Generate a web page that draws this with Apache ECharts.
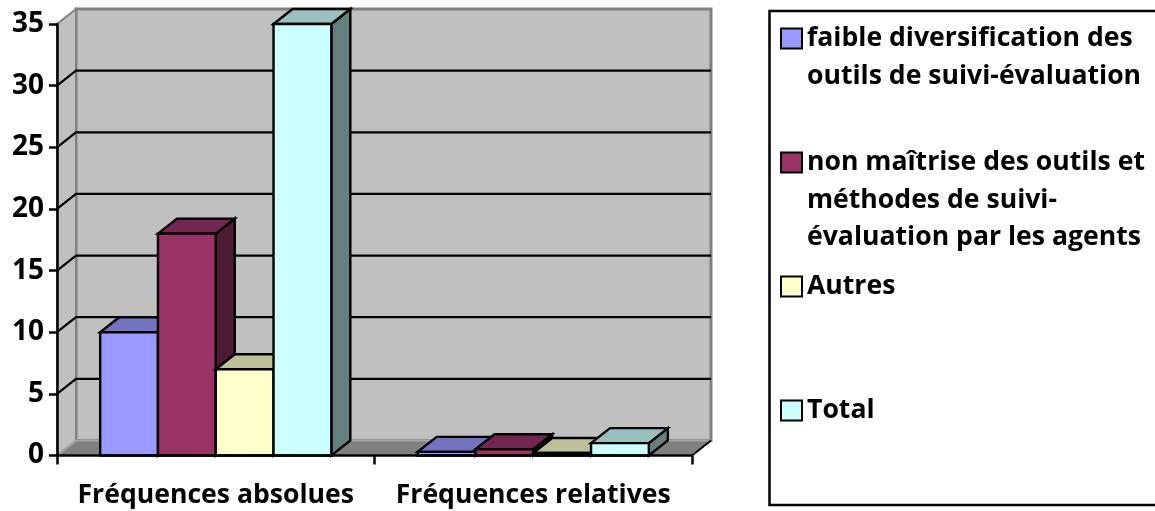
<!DOCTYPE html>
<html>
<head>
<meta charset="utf-8">
<style>html,body{margin:0;padding:0;background:#fff}#c{width:1155px;height:511px}</style>
<script src="https://cdn.jsdelivr.net/npm/echarts@6/dist/echarts.min.js"></script>
</head>
<body>
<div id="c"></div>
<script>
const categories = ['Fréquences absolues', 'Fréquences relatives'];
const seriesNames = ['faible diversification des outils de suivi-évaluation',
  'non maîtrise des outils et méthodes de suivi-évaluation par les agents', 'Autres', 'Total'];
const legendLines = [
  ['faible diversification des', 'outils de suivi-évaluation'],
  ['non maîtrise des outils et', 'méthodes de suivi-', 'évaluation par les agents'],
  ['Autres'],
  ['Total']
];
const faible = [10, 0.29];
const nonMaitrise = [18, 0.51];
const autres = [7, 0.2];
const total = [35, 1];
const seriesValues = [faible, nonMaitrise, autres, total];
const yTicks = [0, 5, 10, 15, 20, 25, 30, 35];
const frontColors = ['#9999FF', '#993366', '#FFFFCC', '#CCFFFF'];
const topColors = ['#7373BF', '#732650', '#BFBF99', '#99BFBF'];
const sideColors = ['#5C5C99', '#4D1A33', '#808066', '#668080'];
const legendCenters = [36, 160, 284, 408];

const FONT = '"Open Sans"';
const DX = 19, DY = -15, BAR_RATIO = 0.182, LH = 37.5;

function poly(points, fill, stroke, lw) {
  return { type: 'polygon', shape: { points }, style: { fill, stroke: stroke || 'none', lineWidth: lw || 0, lineJoin: 'miter' } };
}

function renderWalls(params) {
  const c = params.coordSys;
  const l = c.x, r = c.x + c.width, t = c.y, b = c.y + c.height;
  const grey = '#808080';
  return { type: 'group', children: [
    poly([[l + DX, t + DY], [r + DX, t + DY], [r + DX, b + DY], [l + DX, b + DY]], '#C0C0C0', grey, 3),
    poly([[l, t], [l + DX, t + DY], [l + DX, b + DY], [l, b]], '#C0C0C0', grey, 2),
    poly([[l, b], [l + DX, b + DY], [r + DX, b + DY], [r, b]], '#808080', '#808080', 1),
    { type: 'line', shape: { x1: l + DX, y1: b + DY, x2: r + DX, y2: b + DY }, style: { stroke: '#A6A6A6', lineWidth: 2 } },
    { type: 'line', shape: { x1: l, y1: b, x2: l + DX, y2: b + DY }, style: { stroke: '#A6A6A6', lineWidth: 2 } },
    { type: 'line', shape: { x1: r, y1: b, x2: r + DX, y2: b + DY }, style: { stroke: '#000', lineWidth: 2 } }
  ] };
}

function renderGrid(params, api) {
  const v = api.value(0);
  if (v === yTicks[0] || v === yTicks[yTicks.length - 1]) return { type: 'group', children: [] };
  const c = params.coordSys;
  const y = api.coord([0, v])[1];
  return { type: 'polyline', shape: { points: [[c.x, y], [c.x + DX, y + DY], [c.x + c.width + DX, y + DY]] },
    style: { fill: 'none', stroke: '#000', lineWidth: 2.2 } };
}

function makeBarRenderer(idx) {
  return function (params, api) {
    const center = api.coord([api.value(0), 0])[0];
    const band = api.size([1, 0])[0];
    const w = band * BAR_RATIO;
    const x0 = center - 2 * w + idx * w, x1 = x0 + w;
    const yv = api.coord([0, api.value(1)])[1];
    const yb = api.coord([0, 0])[1];
    const K = '#000';
    return { type: 'group', children: [
      poly([[x1, yv], [x1 + DX, yv + DY], [x1 + DX, yb + DY], [x1, yb]], sideColors[idx], K, 2.4),
      poly([[x0, yv], [x0 + DX, yv + DY], [x1 + DX, yv + DY], [x1, yv]], topColors[idx], K, 2.4),
      poly([[x0, yv], [x1, yv], [x1, yb], [x0, yb]], frontColors[idx], K, 2.4)
    ] };
  };
}

const barSeries = seriesNames.map((name, i) => ({
  name, type: 'custom', coordinateSystem: 'cartesian2d', z: 3 + i,
  renderItem: makeBarRenderer(i),
  encode: { x: 0, y: 1 },
  itemStyle: { color: frontColors[i] },
  silent: true,
  data: categories.map((_, k) => [k, seriesValues[i][k]])
}));

const legends = seriesNames.map((name, i) => {
  const n = legendLines[i].length;
  return {
    show: true, orient: 'vertical', left: 780, padding: 0,
    top: legendCenters[i] - (2 * n - 1) * LH / 2,
    itemWidth: 21, itemHeight: 20, icon: 'rect',
    selectedMode: false,
    data: [{ name, icon: 'rect', itemStyle: { color: frontColors[i], borderColor: '#000', borderWidth: 2 } }],
    textStyle: { fontFamily: FONT, fontWeight: 'bold', fontSize: 26.6, color: '#000', lineHeight: LH, padding: [5, 0, 0, 0] },
    formatter: () => new Array(n - 1).fill(' ').concat(legendLines[i]).join('\n')
  };
});

const chart = echarts.init(document.getElementById('c'), null, { renderer: 'canvas' });
chart.setOption({
  animation: false,
  backgroundColor: '#fff',
  grid: { left: 57, right: 463, top: 24, bottom: 55.5 },
  xAxis: {
    type: 'category', data: categories, z: 10,
    axisLine: { lineStyle: { color: '#000', width: 2.5 } },
    axisTick: { show: true, length: 9, alignWithLabel: false, lineStyle: { color: '#000', width: 2.5 } },
    axisLabel: { margin: 26, color: '#000', fontFamily: FONT, fontWeight: 'bold', fontSize: 26.6, interval: 0 }
  },
  yAxis: {
    type: 'value', min: 0, max: 35, interval: 5, z: 10,
    axisLine: { show: true, lineStyle: { color: '#000', width: 2.5 } },
    axisTick: { show: true, length: 8, lineStyle: { color: '#000', width: 2.5 } },
    splitLine: { show: false },
    axisLabel: { margin: 13, color: '#000', fontFamily: FONT, fontWeight: 'bold', fontSize: 28, padding: [9, 0, 0, 0] }
  },
  legend: legends,
  graphic: [{ type: 'rect', shape: { x: 769.5, y: 11, width: 400, height: 494 }, style: { fill: 'none', stroke: '#000', lineWidth: 2.5 }, z: 1 }],
  series: [
    { type: 'custom', name: 'walls', coordinateSystem: 'cartesian2d', renderItem: renderWalls, z: 0, silent: true, data: [[0, 0]], encode: { x: 0, y: 1 } },
    { type: 'custom', name: 'gridlines', coordinateSystem: 'cartesian2d', renderItem: renderGrid, z: 1, silent: true, data: yTicks.map(v => [v]), encode: { y: 0 } }
  ].concat(barSeries)
});
</script>
</body>
</html>
